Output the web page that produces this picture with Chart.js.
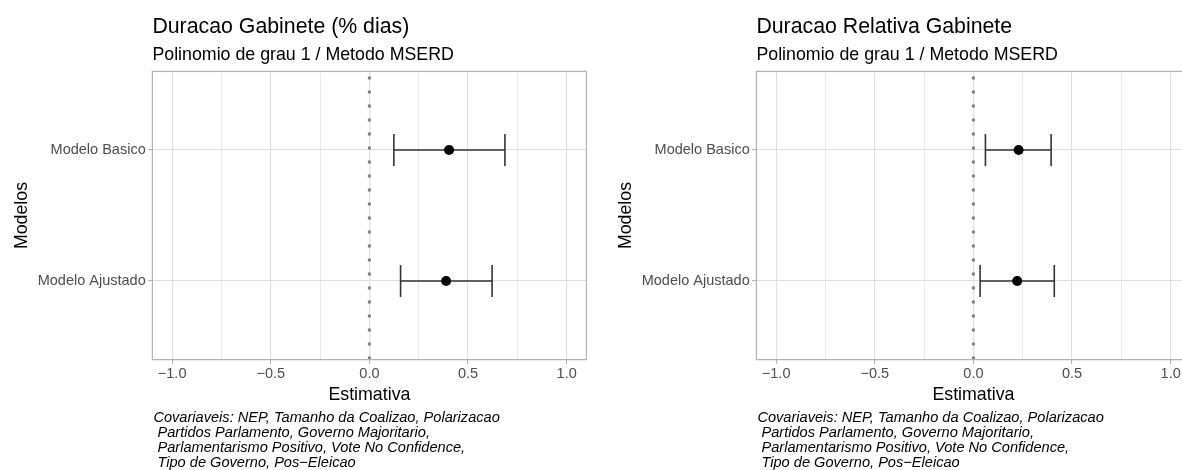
<!DOCTYPE html>
<html>
<head>
<meta charset="utf-8">
<script src="https://cdn.jsdelivr.net/npm/chart.js@4.4.1/dist/chart.umd.min.js"></script>
<style>
  html, body { margin: 0; padding: 0; background: #fff; overflow: hidden; }
  #wrap { position: relative; width: 1182px; height: 470px; overflow: hidden; }
  .panel { position: absolute; top: 0; width: 604px; height: 470px; }
</style>
</head>
<body>
<div id="wrap">
  <div class="panel" style="left:0"><canvas id="chart-dias" width="604" height="470"></canvas></div>
  <div class="panel" style="left:604px"><canvas id="chart-relativa" width="604" height="470"></canvas></div>
</div>
<script>
// modelos, de baixo para cima no eixo y
const models = ['Modelo Ajustado', 'Modelo Basico'];
const xMajor = [-1, -0.5, 0, 0.5, 1];
const xMinor = [-0.75, -0.25, 0.25, 0.75];
const refLine = 0;

// Duracao Gabinete (% dias)
const diasEst = [0.389, 0.404];
const diasLow = [0.158, 0.124];
const diasHigh = [0.622, 0.687];

// Duracao Relativa Gabinete
const relEst = [0.222, 0.229];
const relLow = [0.034, 0.061];
const relHigh = [0.410, 0.394];

const subtitle = 'Polinomio de grau 1 / Metodo MSERD';
const captionLines = [
    'Covariaveis: NEP, Tamanho da Coalizao, Polarizacao',
    ' Partidos Parlamento, Governo Majoritario,',
    ' Parlamentarismo Positivo, Vote No Confidence,',
    ' Tipo de Governo, Pos\u2212Eleicao'
];

const FONT = '"Liberation Sans", Arial, Helvetica, sans-serif';
const GRID = '#dedede';
const BORDER = '#b3b3b3';
const TICK_TEXT = '#4d4d4d';

const fmt = v => (v < 0 ? '\u2212' : '') + Math.abs(v).toFixed(1);
const isMajor = v => xMajor.some(m => Math.abs(m - v) < 1e-9);

// titulo, subtitulo, legenda, linha de referencia e borda do painel
const decorPlugin = {
    id: 'decor',
    beforeDatasetsDraw(chart) {
        const { ctx, chartArea: a, scales: { x } } = chart;
        const px = x.getPixelForValue(refLine);
        ctx.save();
        ctx.strokeStyle = '#7f7f7f';
        ctx.lineWidth = 3;
        ctx.lineCap = 'butt';
        ctx.setLineDash([3, 11]);
        ctx.beginPath();
        ctx.moveTo(px, a.bottom);
        ctx.lineTo(px, a.top);
        ctx.stroke();
        ctx.restore();
    },
    afterDatasetsDraw(chart) {
        const { ctx, chartArea: a } = chart;
        ctx.save();
        ctx.strokeStyle = BORDER;
        ctx.lineWidth = 1.3;
        ctx.strokeRect(a.left, a.top, a.right - a.left, a.bottom - a.top);
        ctx.restore();
    },
    afterDraw(chart, args, opts) {
        const { ctx, chartArea: a } = chart;
        ctx.save();
        ctx.fillStyle = '#000';
        ctx.textBaseline = 'alphabetic';
        ctx.textAlign = 'left';
        ctx.font = '21.3px ' + FONT;
        ctx.fillText(opts.title, a.left, 32.5);
        ctx.font = '17.8px ' + FONT;
        ctx.fillText(subtitle, a.left, 60);

        ctx.textAlign = 'center';
        ctx.fillText('Estimativa', (a.left + a.right) / 2, 400);

        ctx.save();
        ctx.translate(27, (a.top + a.bottom) / 2);
        ctx.rotate(-Math.PI / 2);
        ctx.fillText('Modelos', 0, 0);
        ctx.restore();

        ctx.textAlign = 'left';
        ctx.font = 'italic 14.6px ' + FONT;
        captionLines.forEach((line, i) => ctx.fillText(line, a.left + 1, 421.8 + i * 15));
        ctx.restore();
    }
};

function makeChart(id, title, est, low, high) {
    const points = {
        data: est.map((v, i) => ({ x: v, y: i + 1 })),
        pointRadius: 5,
        pointBackgroundColor: '#000',
        pointBorderWidth: 0
    };
    const whiskers = models.map((m, i) => ({
        data: [{ x: low[i], y: i + 1 }, { x: high[i], y: i + 1 }],
        showLine: true,
        borderColor: '#333333',
        borderWidth: 1.6,
        pointStyle: 'line',
        pointRotation: 90,
        pointRadius: 16,
        pointBorderColor: '#333333',
        pointBorderWidth: 1.6
    }));

    return new Chart(document.getElementById(id), {
        type: 'scatter',
        data: { datasets: [points, ...whiskers] },
        options: {
            responsive: false,
            animation: false,
            events: [],
            devicePixelRatio: 1,
            layout: { padding: { top: 71.4, right: 16.4, bottom: 0, left: 0 } },
            scales: {
                x: {
                    type: 'linear', min: -1.1, max: 1.1,
                    afterBuildTicks: s => {
                        s.ticks = [...xMajor, ...xMinor].sort((p, q) => p - q).map(v => ({ value: v }));
                    },
                    afterFit: s => { s.height = 110.4; },
                    ticks: {
                        callback: v => isMajor(v) ? fmt(v) : '',
                        autoSkip: false, maxRotation: 0, padding: 3,
                        color: TICK_TEXT, font: { family: FONT, size: 14.5, lineHeight: 1 }
                    },
                    grid: {
                        color: GRID,
                        lineWidth: c => isMajor(c.tick.value) ? 1.1 : 0.7,
                        tickLength: 4.5,
                        tickColor: c => isMajor(c.tick.value) ? BORDER : 'rgba(0,0,0,0)',
                        tickWidth: 1.1
                    },
                    border: { display: false }
                },
                y: {
                    type: 'linear', min: 0.4, max: 2.6,
                    afterBuildTicks: s => { s.ticks = models.map((m, i) => ({ value: i + 1 })); },
                    afterFit: s => { s.width = 152.4; },
                    ticks: {
                        callback: v => models[Math.round(v) - 1],
                        padding: 2.2,
                        color: TICK_TEXT, font: { family: FONT, size: 14.5, lineHeight: 1 }
                    },
                    grid: { color: GRID, lineWidth: 1.1, tickLength: 4.5, tickColor: BORDER, tickWidth: 1.1 },
                    border: { display: false }
                }
            },
            plugins: {
                legend: { display: false },
                tooltip: { enabled: false },
                decor: { title }
            }
        },
        plugins: [decorPlugin]
    });
}

makeChart('chart-dias', 'Duracao Gabinete (% dias)', diasEst, diasLow, diasHigh);
makeChart('chart-relativa', 'Duracao Relativa Gabinete', relEst, relLow, relHigh);
</script>
</body>
</html>
